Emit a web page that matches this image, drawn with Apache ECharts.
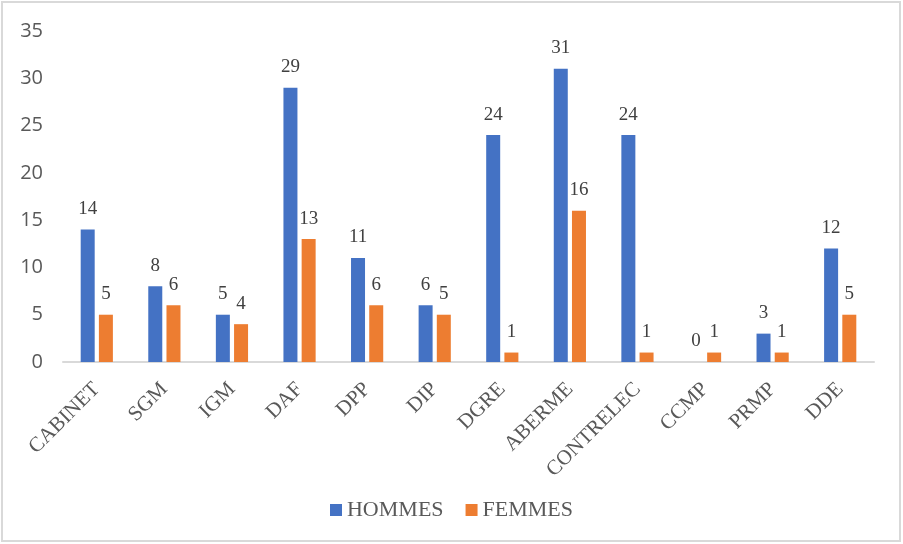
<!DOCTYPE html>
<html>
<head>
<meta charset="utf-8">
<script src="https://cdn.jsdelivr.net/npm/echarts@6/dist/echarts.min.js"></script>
<style>
	body{margin:0;background:#fff;}
	#chart{width:903px;height:544px;}
</style>
</head>
<body>
<div id="chart"></div>
<script type="text/javascript">
// catégories (directions)
var categories = ['CABINET','SGM','IGM','DAF','DPP','DIP','DGRE','ABERME','CONTRELEC','CCMP','PRMP','DDE'];
// effectifs
var hommes = [14, 8, 5, 29, 11, 6, 24, 31, 24, 0, 3, 12];
var femmes = [5, 6, 4, 13, 6, 5, 1, 16, 1, 1, 1, 5];
var yTicks = [0, 5, 10, 15, 20, 25, 30, 35];

var myChart = echarts.init(document.getElementById('chart'));

var labelStyle = {
	show: true,
	position: 'top',
	distance: 11,
	color: '#404040',
	fontSize: 19,
	fontFamily: 'Liberation Serif'
};

var options = {
	animation: false,
	graphic: [{
		type: 'rect',
		shape: {x: 2, y: 2, width: 898, height: 539},
		style: {fill: 'none', stroke: '#d9d9d9', lineWidth: 2}
	}],
	grid: {left: 63, right: 29, top: 31, bottom: 182},
	legend: {
		bottom: 18,
		left: 'center',
		itemWidth: 12,
		itemHeight: 12,
		itemGap: 22,
		icon: 'rect',
		textStyle: {fontFamily: 'Liberation Serif', fontSize: 22, color: '#595959'},
		data: ['HOMMES', 'FEMMES']
	},
	xAxis: {
		type: 'category',
		data: categories,
		axisLine: {lineStyle: {color: '#d9d9d9', width: 2}},
		axisTick: {show: false},
		axisLabel: {
			interval: 0,
			rotate: 45,
			margin: 24,
			fontFamily: 'Liberation Serif',
			fontSize: 21,
			color: '#595959'
		}
	},
	yAxis: {
		type: 'value',
		min: yTicks[0],
		max: yTicks[yTicks.length - 1],
		interval: 5,
		splitLine: {show: false},
		axisLine: {show: false},
		axisTick: {show: false},
		axisLabel: {
			margin: 20,
			fontFamily: 'Open Sans',
			fontSize: 20,
			color: '#595959'
		}
	},
	series: [
		{
			name: 'HOMMES',
			type: 'bar',
			data: hommes,
			barWidth: 14,
			barGap: '30%',
			itemStyle: {color: '#4472c4'},
			label: labelStyle
		},
		{
			name: 'FEMMES',
			type: 'bar',
			data: femmes,
			barWidth: 14,
			itemStyle: {color: '#ed7d31'},
			label: labelStyle
		}
	]
};
myChart.setOption(options);
</script>
</body>
</html>
